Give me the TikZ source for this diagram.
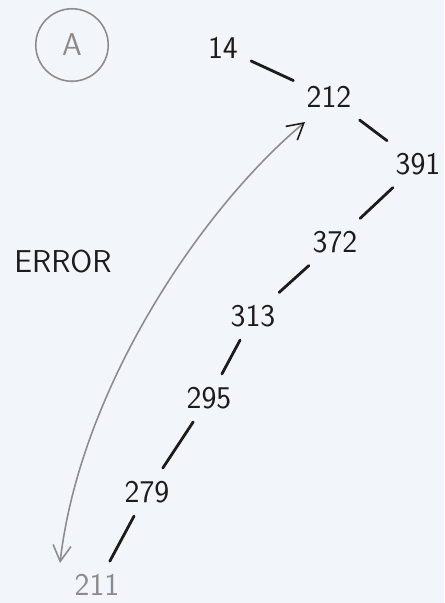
\documentclass[tikz,border=0pt]{standalone}
\usepackage{tikz}
\usetikzlibrary{arrows.meta}
\definecolor{PaperBlue}{RGB}{242,246,251}
\definecolor{InkBlack}{RGB}{28,28,30}
\definecolor{PencilGray}{RGB}{140,140,142}

\begin{document}
\begin{tikzpicture}[
x=0.02cm, y=-0.02cm,
font=\sffamily\fontsize{18}{20}\selectfont,
num/.style={text=InkBlack, inner sep=6pt},
edge/.style={draw=InkBlack, line width=1.6pt, line cap=round, shorten <=1.5pt, shorten >=1.5pt},
err/.style={draw=PencilGray, line width=0.9pt, {Straight Barb[length=3.2mm,width=3.6mm]}-{Straight Barb[length=3.2mm,width=3.6mm,color=InkBlack]}},
tag/.style={draw=PencilGray, circle, minimum size=1.45cm, inner sep=0pt, line width=0.9pt, text=PencilGray}
]
\fill[PaperBlue] (0,0) rectangle (444,603);
\useasboundingbox (0,0) rectangle (444,603);

\node[tag] (lab) at (72,45) {A};
\node[text=InkBlack] (errtxt) at (63,262) {ERROR};

\node[num] (n14) at (223,48) {14};
\node[num] (n212) at (329,97) {212};
\node[num] (n391) at (418,164) {391};
\node[num] (n372) at (335,242) {372};
\node[num] (n313) at (253,316) {313};
\node[num] (n295) at (209,398) {295};
\node[num] (n279) at (147,492) {279};
\node[num, text=PencilGray] (n211) at (97,585) {211};

\draw[edge] (n14) -- (n212);
\draw[edge] (n212) -- (n391);
\draw[edge] (n391) -- (n372);
\draw[edge] (n372) -- (n313);
\draw[edge] (n313) -- (n295);
\draw[edge] (n295) -- (n279);
\draw[edge] (n279) -- (n211);

\coordinate (errlo) at (60,563);
\coordinate (errhi) at (305,122);
\draw[err] (errlo) .. controls (80,390) and (200,210) .. (errhi);
\end{tikzpicture}
\end{document}
